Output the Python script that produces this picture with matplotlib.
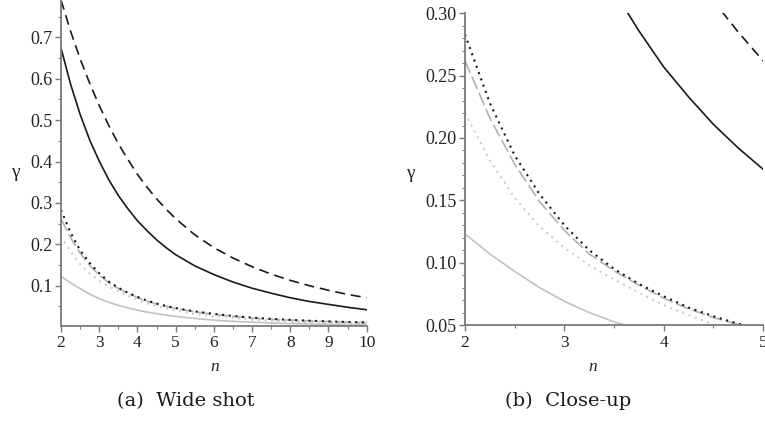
import matplotlib
matplotlib.use("Agg")
import matplotlib.pyplot as plt
from matplotlib.ticker import MultipleLocator, FormatStrFormatter

plt.rcParams["font.family"] = ["Liberation Serif", "DejaVu Serif"]

# ---- data ----
n_vals = [2, 2.25, 2.5, 2.75, 3, 3.25, 3.5, 3.75, 4, 4.25, 4.5, 4.75,
          5, 5.5, 6, 6.5, 7, 7.5, 8, 8.5, 9, 9.5, 10]
black_solid = [0.674, 0.587, 0.514, 0.452, 0.401, 0.356, 0.318, 0.286, 0.257, 0.233, 0.211, 0.192,
               0.175, 0.148, 0.127, 0.109, 0.094, 0.082, 0.071, 0.062, 0.055, 0.048, 0.042]
black_dashed = [0.790, 0.715, 0.648, 0.589, 0.535, 0.487, 0.443, 0.405, 0.369, 0.338, 0.310, 0.285,
                0.262, 0.223, 0.192, 0.167, 0.146, 0.128, 0.113, 0.100, 0.089, 0.079, 0.071]
black_dotted = [0.283, 0.228, 0.186, 0.155, 0.130, 0.110, 0.095, 0.083, 0.073, 0.064, 0.057, 0.051,
                0.046, 0.038, 0.032, 0.027, 0.023, 0.020, 0.0175, 0.0155, 0.014, 0.0125, 0.0114]
gray_dashed = [0.262, 0.216, 0.179, 0.149, 0.126, 0.107, 0.0935, 0.082, 0.0715, 0.063, 0.056, 0.0505,
               0.045, 0.037, 0.031, 0.026, 0.022, 0.019, 0.017, 0.015, 0.0135, 0.012, 0.011]
light_dotted = [0.220, 0.182, 0.152, 0.129, 0.112, 0.098, 0.0865, 0.076, 0.066, 0.058, 0.0505, 0.045,
                0.040, 0.032, 0.026, 0.022, 0.018, 0.0155, 0.0135, 0.012, 0.0105, 0.0095, 0.0085]
light_solid = [0.123, 0.107, 0.093, 0.080, 0.069, 0.060, 0.0525, 0.0465, 0.041, 0.0365, 0.0325, 0.029,
               0.026, 0.021, 0.017, 0.014, 0.012, 0.010, 0.0088, 0.0078, 0.007, 0.0063, 0.0057]

wide_xticks = [2, 3, 4, 5, 6, 7, 8, 9, 10]
wide_yticks = [0.1, 0.2, 0.3, 0.4, 0.5, 0.6, 0.7]
close_xticks = [2, 3, 4, 5]
close_yticks = [0.05, 0.10, 0.15, 0.20, 0.25, 0.30]
captions = ["(a)  Wide shot", "(b)  Close-up"]

W, H = 765, 426
fig = plt.figure(figsize=(W / 100, H / 100), dpi=100)


def fx(px):
    return px / W


def fy(py):
    return 1 - py / H


def draw(ax):
    ax.plot(n_vals, light_solid, color="#c2c2c2", lw=1.2, solid_capstyle="butt")
    ax.plot(n_vals, light_dotted, color="#c8c8c8", lw=1.4, dashes=(1, 2.4))
    ax.plot(n_vals, gray_dashed, color="#b2b2b2", lw=1.2, dashes=(8, 2.5))
    ax.plot(n_vals, black_dotted, color="#1a1a1a", lw=1.5, dashes=(1, 2.2))
    ax.plot(n_vals, black_solid, color="#1a1a1a", lw=1.2)
    ax.plot(n_vals, black_dashed, color="#1a1a1a", lw=1.2, dashes=(6, 3.5))


def style(ax, ysize):
    for s in ("top", "right"):
        ax.spines[s].set_visible(False)
    for s in ("left", "bottom"):
        ax.spines[s].set_color("#7a7a7a")
        ax.spines[s].set_linewidth(1.3)
    ax.tick_params(which="major", direction="out", length=4, width=1, color="#7a7a7a",
                   labelcolor="#222222", pad=2)
    ax.tick_params(axis="x", labelsize=12.5, pad=3)
    ax.tick_params(axis="y", labelsize=ysize)
    ax.tick_params(which="minor", direction="out", length=2, width=0.8, color="#7a7a7a")


# Left: wide shot
ax1 = fig.add_axes([fx(61), fy(325.7), fx(366.7 - 61), fy(0) - fy(325.7)])
draw(ax1)
ax1.set_xlim(2, 10)
ax1.set_ylim(0.0035, 0.79)
ax1.set_xticks(wide_xticks)
ax1.set_yticks(wide_yticks)
ax1.yaxis.set_major_formatter(FormatStrFormatter("%.1f"))
ax1.xaxis.set_minor_locator(MultipleLocator(0.5))
ax1.yaxis.set_minor_locator(MultipleLocator(0.05))
style(ax1, 13)

# Right: close-up
ax2 = fig.add_axes([fx(465), fy(325), fx(763 - 465), fy(13.3) - fy(325)])
draw(ax2)
ax2.set_xlim(2, 5)
ax2.set_ylim(0.05, 0.30)
ax2.set_xticks(close_xticks)
ax2.set_yticks(close_yticks)
ax2.yaxis.set_major_formatter(FormatStrFormatter("%.2f"))
ax2.xaxis.set_minor_locator(MultipleLocator(0.5))
ax2.yaxis.set_minor_locator(MultipleLocator(0.01))
style(ax2, 13)

# axis labels
fig.text(fx(214.5), fy(367), "n", style="italic", fontsize=12.5,
         ha="center", va="center", color="#222222")
fig.text(fx(593), fy(367), "n", style="italic", fontsize=12.5,
         ha="center", va="center", color="#222222")
fig.text(fx(15), fy(172), "γ", fontsize=14, ha="center", va="center", color="#222222")
fig.text(fx(410), fy(174), "γ", fontsize=14, ha="center", va="center", color="#222222")

# captions
fig.text(fx(186), fy(401), captions[0], family=["DejaVu Serif"], fontsize=14,
         ha="center", va="center", color="#1a1a1a")
fig.text(fx(568), fy(401), captions[1], family=["DejaVu Serif"], fontsize=14,
         ha="center", va="center", color="#1a1a1a")

fig.savefig("out.png", dpi=100)
